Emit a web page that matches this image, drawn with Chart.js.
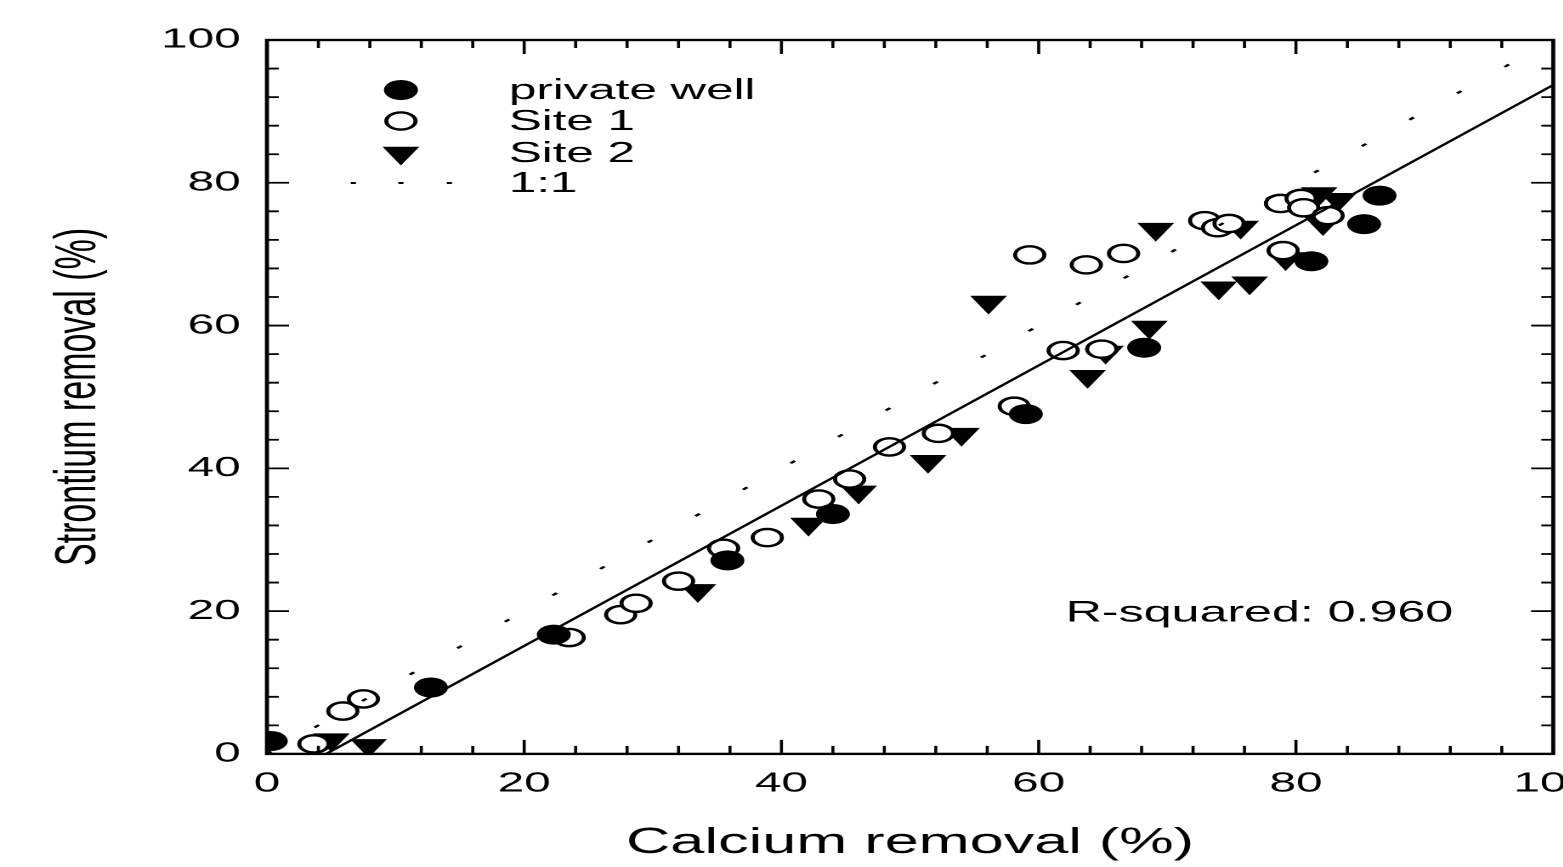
<!DOCTYPE html>
<html>
<head>
<meta charset="utf-8">
<script src="https://cdn.jsdelivr.net/npm/chart.js@4.4.1/dist/chart.umd.min.js"></script>
<style>
  html, body { margin: 0; padding: 0; background: #fff; overflow: hidden; }
  /* the original figure is stretched sideways, so the whole canvas is too */
  #wrap { width: 950px; height: 867px; transform: scaleX(1.7); transform-origin: 0 0; }
</style>
</head>
<body>
<div id="wrap"><canvas id="chart"></canvas></div>
<script>
// --- data ---
const wellX = [0.3, 12.75, 22.3, 35.8, 44.0, 59.0, 68.2, 81.2, 85.3, 86.5];
const wellY = [1.8, 9.3, 16.7, 27.1, 33.6, 47.6, 56.9, 69.0, 74.2, 78.2];

const site1X = [3.65, 5.9, 7.5, 23.5, 27.5, 28.7, 32.0, 35.5, 38.9, 42.9, 45.3, 48.4, 52.2, 58.1,
                59.3, 61.9, 63.7, 64.9, 66.6, 72.9, 73.9, 74.8, 78.8, 79.0, 80.4, 80.6, 82.5];
const site1Y = [1.4, 6.0, 7.7, 16.3, 19.5, 21.1, 24.2, 28.8, 30.3, 35.7, 38.5, 43.0, 44.9, 48.7,
                69.9, 56.5, 68.5, 56.7, 70.1, 74.7, 73.7, 74.3, 77.1, 70.5, 77.8, 76.5, 75.4];

const site2X = [5.0, 7.9, 33.5, 42.1, 46.0, 51.4, 54.0, 56.1, 63.8, 65.2, 68.6, 69.1, 74.0, 76.4,
                75.7, 79.2, 82.1, 81.8, 83.3];
const site2Y = [2.0, 1.2, 22.9, 32.2, 36.7, 41.0, 44.8, 63.3, 52.9, 56.3, 59.8, 73.5, 65.3, 66.0,
                73.8, 69.4, 74.3, 78.5, 77.7];

const oneToOneX = [0, 100];
const oneToOneY = [0, 100];
const fitX = [4.6, 100];
const fitY = [0, 93.7];

const tickValues = [0, 20, 40, 60, 80, 100];
const minorStep = 4;
const rSquaredLabel = 'R-squared: 0.960';
const rSquaredAt = [62.1, 19.7];

const legendNames = ['private well', 'Site 1', 'Site 2', '1:1'];

const FONT = '"Liberation Sans", Arial, Helvetica, sans-serif';

function pts(xs, ys) {
    return xs.map((x, i) => ({ x: x, y: ys[i] }));
}

const wellStyle = { pointStyle: 'circle', radius: 10, rotation: 0, borderWidth: 0, bg: '#000', border: '#000' };
const site1Style = { pointStyle: 'circle', radius: 8.6, rotation: 0, borderWidth: 2.4, bg: '#fff', border: '#000' };
const site2Style = { pointStyle: 'triangle', radius: 12.5, rotation: 180, borderWidth: 0, bg: '#000', border: '#000' };

function scatterSet(label, xs, ys, s) {
    return {
        label: label,
        data: pts(xs, ys),
        pointStyle: s.pointStyle,
        pointRadius: s.radius,
        pointRotation: s.rotation,
        pointBorderWidth: s.borderWidth,
        pointBackgroundColor: s.bg,
        pointBorderColor: s.border,
        showLine: false
    };
}

// frame, inward ticks, legend and the R-squared note
const decorations = {
    id: 'decorations',
    afterDraw(chart) {
        const { ctx, chartArea: a, scales: { x, y } } = chart;
        ctx.save();

        ctx.strokeStyle = '#000';
        ctx.lineWidth = 1.8;
        ctx.beginPath();
        for (let v = 0; v <= 100; v += minorStep) {
            const major = v % 20 === 0;
            const px = x.getPixelForValue(v);
            const hl = major ? 14 : 8;
            ctx.moveTo(px, a.bottom); ctx.lineTo(px, a.bottom - hl);
            ctx.moveTo(px, a.top); ctx.lineTo(px, a.top + hl);
            const py = y.getPixelForValue(v);
            const vl = major ? 13 : 7;
            ctx.moveTo(a.left, py); ctx.lineTo(a.left + vl, py);
            ctx.moveTo(a.right, py); ctx.lineTo(a.right - vl, py);
        }
        ctx.stroke();

        ctx.lineWidth = 2.4;
        ctx.strokeRect(a.left, a.top, a.right - a.left, a.bottom - a.top);

        // legend
        const symX = a.left + 78.8;
        const textX = a.left + 142.3;
        const rows = [a.top + 50, a.top + 81, a.top + 113, a.top + 143];
        const styles = [wellStyle, site1Style, site2Style];
        ctx.font = '29px ' + FONT;
        ctx.textBaseline = 'middle';
        ctx.textAlign = 'left';
        styles.forEach((s, i) => {
            ctx.fillStyle = s.bg;
            ctx.strokeStyle = s.border;
            ctx.lineWidth = s.borderWidth;
            Chart.helpers.drawPoint(ctx, {
                pointStyle: s.pointStyle, radius: s.radius, rotation: s.rotation, borderWidth: s.borderWidth
            }, symX, rows[i]);
        });
        ctx.fillStyle = '#000';
        [symX - 28, symX, symX + 28.5].forEach(dx => {
            ctx.fillRect(dx - 1.5, rows[3] - 1, 3, 2);
        });
        legendNames.forEach((n, i) => ctx.fillText(n, textX, rows[i] + 1));

        ctx.font = '29.5px ' + FONT;
        ctx.fillText(rSquaredLabel, x.getPixelForValue(rSquaredAt[0]), y.getPixelForValue(rSquaredAt[1]));

        ctx.restore();
    }
};

const tickFont = { family: FONT, size: 28 };

new Chart(document.getElementById('chart'), {
    type: 'scatter',
    data: {
        datasets: [
            {
                label: 'fit',
                data: pts(fitX, fitY),
                showLine: true,
                borderColor: '#000',
                borderWidth: 2,
                pointRadius: 0
            },
            {
                label: '1:1',
                data: pts(oneToOneX, oneToOneY),
                showLine: true,
                borderColor: '#000',
                borderWidth: 2,
                borderDash: [3.5, 35],
                pointRadius: 0
            },
            scatterSet('private well', wellX, wellY, wellStyle),
            scatterSet('Site 1', site1X, site1Y, site1Style),
            scatterSet('Site 2', site2X, site2Y, site2Style)
        ]
    },
    options: {
        responsive: true,
        maintainAspectRatio: false,
        animation: false,
        devicePixelRatio: 2,
        layout: { padding: { top: 40, right: 9, bottom: 3, left: 26 } },
        plugins: { legend: { display: false }, tooltip: { enabled: false } },
        scales: {
            x: {
                type: 'linear',
                min: 0, max: 100,
                afterBuildTicks: s => { s.ticks = tickValues.map(v => ({ value: v })); },
                grid: { display: false, drawTicks: false },
                border: { display: false },
                ticks: { color: '#000', font: tickFont, padding: 13, maxRotation: 0 },
                title: {
                    display: true,
                    text: 'Calcium removal (%)',
                    color: '#000',
                    font: { family: FONT, size: 36, lineHeight: 1 },
                    padding: { top: 11.5, bottom: 3 }
                }
            },
            y: {
                type: 'linear',
                min: 0, max: 100,
                afterBuildTicks: s => { s.ticks = tickValues.map(v => ({ value: v })); },
                grid: { display: false, drawTicks: false },
                border: { display: false },
                ticks: { color: '#000', font: tickFont, padding: 15.5 },
                title: {
                    display: true,
                    text: 'Strontium removal (%)',
                    color: '#000',
                    font: { family: FONT, size: 34 },
                    padding: { top: 0, bottom: 12.5 }
                }
            }
        }
    },
    plugins: [decorations]
});
</script>
</body>
</html>
